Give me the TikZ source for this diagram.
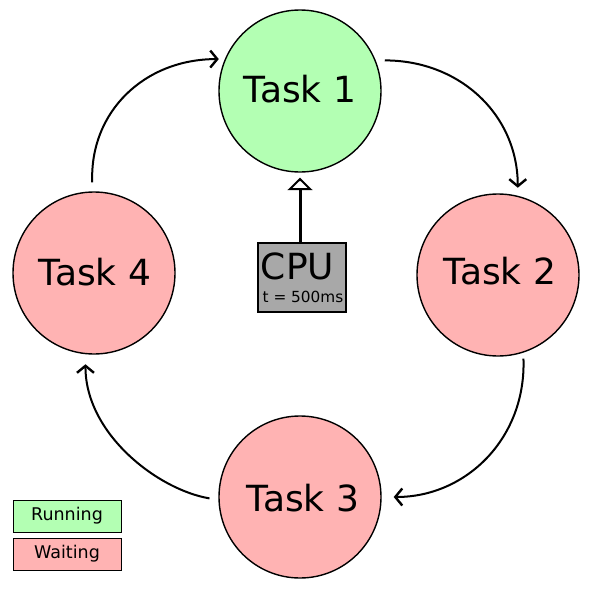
\documentclass[tikz,border=0pt]{standalone}
\usepackage{fontspec}
\setmainfont{DejaVu Sans}
\usetikzlibrary{arrows.meta}
\definecolor{rungreen}{RGB}{179,255,179}
\definecolor{waitpink}{RGB}{255,179,179}
\definecolor{cpugray}{RGB}{168,168,168}
\begin{document}
\begin{tikzpicture}[x=1pt,y=-1pt,
  task/.style={circle,draw=black,line width=1.4pt,minimum size=162pt,inner sep=0pt},
  tasklabel/.style={font=\fontsize{36}{42}\selectfont},
  flow/.style={line width=2pt,-{Straight Barb[length=7pt,width=17pt,line width=2.4pt]}},
  legendbox/.style={draw=black,line width=0.8pt,minimum width=108pt,minimum height=32pt,inner sep=0pt,font=\fontsize{17.5}{20}\selectfont}]
\useasboundingbox[fill=white] (0,0) rectangle (592,589);
\node[task,fill=rungreen] (t1) at (300,91) {};
\node[task,fill=waitpink] (t2) at (498,275) {};
\node[task,fill=waitpink] (t3) at (300,497) {};
\node[task,fill=waitpink] (t4) at (94,273) {};
\node[tasklabel] (l1) at (300,89) {Task 1};
\node[tasklabel] (l2) at (500,271) {Task 2};
\node[tasklabel] (l3) at (303,498) {Task 3};
\node[tasklabel] (l4) at (95,272) {Task 4};
% CPU
\node[draw=black,line width=2pt,fill=cpugray,minimum width=88pt,minimum height=69pt,inner sep=0pt] (cpu) at (302,277.5) {};
\node[font=\fontsize{36}{42}\selectfont,inner sep=0pt] (cpul) at (297.5,266) {CPU};
\node[font=\fontsize{15.3}{18}\selectfont,inner sep=0pt] (cpus) at (303,297) {t = 500ms};
\draw[line width=3pt,shorten >=5pt,-{Triangle[open,fill=white,length=10pt,width=20pt,line width=2pt,scale=1.25]}] (cpu.north -| t1.south) -- (t1.south);
% cycle arrows
\draw[flow,shorten <=9pt,shorten >=8pt] (t1.22) .. controls +(85,0) and +(0,-80) .. (t2.76);
\draw[flow,shorten <=6pt,shorten >=12pt] (t2.-72) .. controls +(3,85) and +(85,0) .. (t3.0);
\draw[flow,shorten <=9pt,shorten >=10pt] (t3.182) .. controls +(-60,-10) and +(0,80) .. (t4.-96);
\draw[flow,shorten <=9pt,shorten >=6pt] (t4.91) .. controls +(-3,-80) and +(-80,0) .. (t1.157);
% legend
\node[legendbox,fill=rungreen] (run) at (67,516) {Running};
\node[legendbox,fill=waitpink] (wait) at (67,554) {Waiting};
\end{tikzpicture}
\end{document}
